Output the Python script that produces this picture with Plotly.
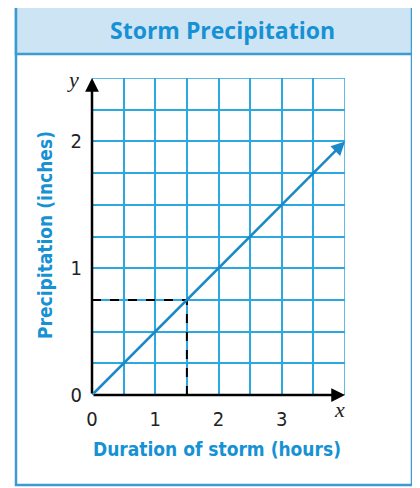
import plotly.graph_objects as go

# Data
line_x = [0, 4]
line_y = [0, 2]
mark_x = 1.5
mark_y = 0.75
x_tickvals = [0, 1, 2, 3]
x_ticktext = ["0", "1", "2", "3"]
y_tickvals = [0, 1, 2]
y_ticktext = ["0", "1", "2"]
x_range = [0, 4]
y_range = [0, 2.5]

OFF = 8  # page body margin
W, H = 420 - OFF, 488 - OFF
L, T = 92 - OFF, 78 - OFF
PW, PH = 253, 317
R = W - L - PW
B = H - T - PH

def px(xp):
    return (xp - OFF - L) / PW

def py(yp):
    return (T + PH - (yp - OFF)) / PH

GRID = "#2aa8df"
BLUE = "#1591d4"
LINE = "#1a88c9"
FRAME = "#3d9bd4"
NARROW = "DejaVu Sans Condensed, Roboto Condensed, Roboto, sans-serif"

fig = go.Figure()

fig.add_trace(go.Scatter(x=line_x, y=line_y, mode="lines",
                         line=dict(color="rgba(0,0,0,0)"), hoverinfo="skip",
                         showlegend=False))

shapes = []
shapes.append(dict(type="rect", xref="paper", yref="paper",
                   x0=px(414), x1=px(421), y0=py(488), y1=py(10),
                   fillcolor="#bdbdbd", line=dict(width=0), layer="below"))
shapes.append(dict(type="rect", xref="paper", yref="paper",
                   x0=px(16), x1=px(412), y0=py(485), y1=py(6),
                   fillcolor="white", line=dict(color=FRAME, width=2.5), layer="below"))
shapes.append(dict(type="rect", xref="paper", yref="paper",
                   x0=px(16), x1=px(412), y0=py(54), y1=py(6),
                   fillcolor="#cde4f4", line=dict(color=FRAME, width=2.5), layer="below"))
shapes.append(dict(type="rect", xref="x", yref="y", x0=x_range[0], x1=x_range[1],
                   y0=y_range[0], y1=y_range[1], line=dict(color=GRID, width=1.5)))
shapes.append(dict(type="line", xref="x", yref="y", x0=0, x1=mark_x, y0=mark_y, y1=mark_y,
                   line=dict(color="black", width=2, dash="dash")))
shapes.append(dict(type="line", xref="x", yref="y", x0=mark_x, x1=mark_x, y0=0, y1=mark_y,
                   line=dict(color="black", width=2, dash="dash")))

annotations = []
annotations.append(dict(x=0, y=y_range[1], xref="x", yref="y", ax=0, ay=y_range[0],
                        axref="x", ayref="y", text="", showarrow=True, arrowhead=2,
                        arrowsize=1.1, arrowwidth=2.5, arrowcolor="black"))
annotations.append(dict(x=x_range[1], y=0, xref="x", yref="y", ax=x_range[0], ay=0,
                        axref="x", ayref="y", text="", showarrow=True, arrowhead=2,
                        arrowsize=1.1, arrowwidth=2.5, arrowcolor="black"))
annotations.append(dict(x=line_x[1], y=line_y[1], xref="x", yref="y", ax=line_x[0], ay=line_y[0],
                        axref="x", ayref="y", text="", showarrow=True, arrowhead=2,
                        arrowsize=1.1, arrowwidth=2.5, arrowcolor=LINE))

def label(xp, yp, text, font, angle=0):
    annotations.append(dict(x=px(xp), y=py(yp), xref="paper", yref="paper", text=text,
                            xanchor="center", yanchor="middle", showarrow=False,
                            textangle=angle, font=font))

label(73, 80, "<i>y</i>", dict(family="Liberation Serif", size=22, color="#222"))
label(339, 409, "<i>x</i>", dict(family="Liberation Serif", size=22, color="#222"))
label(222, 30, "<b>Storm Precipitation</b>", dict(family="Open Sans", size=23, color=BLUE))
label(217, 449, "<b>Duration of storm (hours)</b>", dict(family=NARROW, size=19, color=BLUE))
label(45, 235, "<b>Precipitation (inches)</b>", dict(family=NARROW, size=19, color=BLUE), -90)

fig.update_layout(
    width=W, height=H,
    margin=dict(l=L, r=R, t=T, b=B),
    paper_bgcolor="white", plot_bgcolor="white",
    shapes=shapes, annotations=annotations,
    showlegend=False,
    xaxis=dict(range=x_range, tickvals=x_tickvals, ticktext=x_ticktext,
               showgrid=True, gridcolor=GRID, gridwidth=1.5, zeroline=False,
               showline=False, ticks="", ticklen=0, ticklabelstandoff=10,
               tickfont=dict(family=NARROW, size=20, color="#222"),
               minor=dict(dtick=0.5, tick0=0, showgrid=True, gridcolor=GRID, gridwidth=1.5),
               fixedrange=True),
    yaxis=dict(range=y_range, tickvals=y_tickvals, ticktext=y_ticktext,
               showgrid=True, gridcolor=GRID, gridwidth=1.5, zeroline=False,
               showline=False, ticks="", ticklen=0, ticklabelstandoff=9,
               tickfont=dict(family=NARROW, size=20, color="#222"),
               minor=dict(dtick=0.25, tick0=0, showgrid=True, gridcolor=GRID, gridwidth=1.5),
               fixedrange=True),
)

fig.write_html("out.html")
